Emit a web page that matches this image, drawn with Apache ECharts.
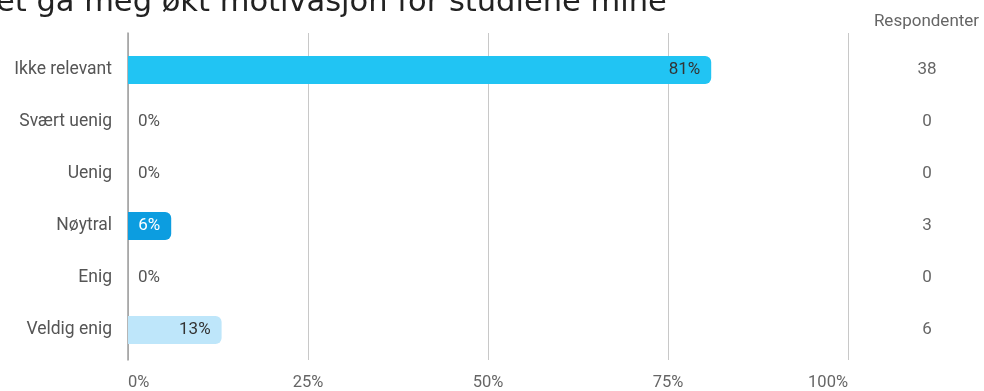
<!DOCTYPE html>
<html><head><meta charset="utf-8">
<script src="https://cdn.jsdelivr.net/npm/echarts@6/dist/echarts.min.js"></script>
<style>html,body{margin:0;padding:0;background:#fff}#c{width:984px;height:391px}</style>
</head><body><div id="c"></div>
<script>
const titleText = 'et ga meg økt motivasjon for studiene mine';
const categories = ['Ikke relevant', 'Svært uenig', 'Uenig', 'Nøytral', 'Enig', 'Veldig enig'];
const percents = [81, 0, 0, 6, 0, 13];
const respondents = [38, 0, 0, 3, 0, 6];
const xTicks = [0, 25, 50, 75, 100];
const barColors = ['#21c4f3', '#21c4f3', '#21c4f3', '#0c9de0', '#21c4f3', '#bee6fa'];
const labelColors = ['#333', '#555', '#555', '#fff', '#555', '#333'];

const chart = echarts.init(document.getElementById('c'), null, {renderer: 'canvas'});
const font = 'Roboto';
chart.setOption({
  animation: false,
  graphic: [{
    type: 'text', left: -4, top: -12,
    style: {text: titleText, font: '30.5px "DejaVu Sans"', fill: '#222'}
  }],
  grid: [
    {left: 128, width: 720, top: 44, height: 312},
    {left: 128, width: 720, top: 33, height: 332}
  ],
  xAxis: [
    {gridIndex: 0, type: 'value', min: 0, max: 100, show: false},
    {gridIndex: 1, type: 'value', min: xTicks[0], max: xTicks[xTicks.length - 1], interval: 25,
     axisLine: {show: false}, axisTick: {show: false},
     splitLine: {lineStyle: {color: '#c8c8c8', width: 1}},
     axisLabel: {formatter: '{value}%', color: '#666', fontFamily: font, fontSize: 16.5, margin: 14,
                 alignMinLabel: 'left', alignMaxLabel: 'right'}}
  ],
  yAxis: [
    {gridIndex: 0, type: 'category', data: categories, inverse: true,
     axisLine: {show: false}, axisTick: {show: false}, splitLine: {show: false},
     axisLabel: {color: '#555', fontFamily: font, fontSize: 17.5, margin: 16}},
    {gridIndex: 0, type: 'category', data: respondents.map(String), inverse: true, position: 'right',
     axisLine: {show: false}, axisTick: {show: false}, splitLine: {show: false},
     name: 'Respondenter', nameLocation: 'start', nameGap: 14,
     nameTextStyle: {color: '#666', fontFamily: font, fontSize: 17, align: 'center', padding: [0, 0, 0, 157]},
     axisLabel: {color: '#666', fontFamily: font, fontSize: 17, margin: 79, align: 'center'}},
    {gridIndex: 1, type: 'value', min: 0, max: 1,
     axisLine: {show: true, lineStyle: {color: '#9e9e9e', width: 1.5}}, axisTick: {show: false},
     axisLabel: {show: false}, splitLine: {show: false}}
  ],
  series: [{
    type: 'bar', xAxisIndex: 0, yAxisIndex: 0, barWidth: 28,
    data: percents.map((v, i) => ({
      value: v,
      itemStyle: {color: barColors[i], borderRadius: [0, 6, 6, 0]},
      label: {
        show: true, position: v > 0 ? 'insideRight' : 'right', distance: v > 0 ? 11 : 10,
        formatter: v + '%', color: labelColors[i], fontFamily: font, fontSize: 17
      }
    })),
    z: 5
  }]
});
</script></body></html>
